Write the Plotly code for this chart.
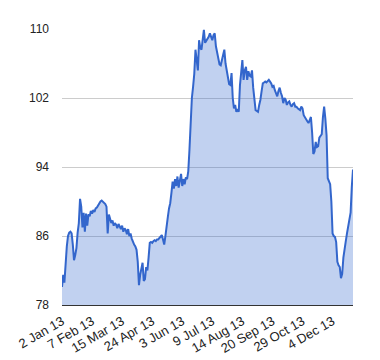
import plotly.graph_objects as go

values = [
    80.1, 81.5, 80.6, 83.0, 84.8, 86.0, 86.4, 86.5, 86.3, 85.0,
    83.2, 83.8, 84.6, 86.4, 87.5, 90.3, 89.4, 87.0, 88.7, 86.5,
    88.6, 87.2, 88.5, 88.3, 88.9, 88.6, 89.0, 88.8, 89.2, 89.3,
    89.6, 89.8, 90.0, 90.1, 90.0, 89.9, 89.7, 89.4, 86.3, 88.5,
    88.0, 87.5, 87.8, 87.2, 87.5, 87.3, 86.9, 87.4, 87.1, 86.8,
    87.2, 86.5, 86.9, 86.7, 86.2, 86.8, 86.0, 86.3, 85.7, 85.3,
    85.0, 84.8, 84.4, 83.0, 80.3, 81.5, 82.5, 82.9, 80.8, 81.0,
    82.4, 82.0, 83.5, 85.2, 85.3, 85.2, 85.4, 85.5, 85.4, 85.6,
    85.6, 85.8, 85.9, 86.1, 85.6, 85.0, 86.0, 87.5, 88.2, 89.2,
    89.8, 91.0, 92.3, 91.5, 92.6, 91.8, 92.9, 91.6, 92.3, 93.2,
    91.8, 92.6, 92.0, 92.8, 92.6, 93.5, 96.0, 99.5, 102.0, 103.3,
    104.8, 107.6, 106.0, 105.2, 108.7, 107.8, 107.6, 109.0, 109.9, 108.4,
    108.6, 108.9, 109.1, 109.5, 109.0, 108.7, 109.3, 109.5, 108.0, 107.2,
    106.2, 105.9, 105.8, 106.4, 107.0, 107.6, 106.0, 105.2, 104.6, 103.6,
    103.5, 104.9, 102.0, 100.8, 101.2, 100.4, 100.7, 100.4, 103.5, 105.2,
    106.4, 104.1, 105.2, 105.6, 104.1, 105.1, 104.6, 104.5, 105.2, 103.2,
    101.5, 100.6, 100.5, 100.4, 101.2, 101.8, 102.8, 103.7, 103.8, 103.9,
    103.8, 104.0, 104.1, 103.9, 103.7, 103.3, 103.4, 102.9, 102.6, 102.2,
    102.8, 103.2, 102.6, 102.2, 101.4, 102.0, 101.8, 101.2, 101.5, 101.6,
    101.2, 101.0, 101.3, 101.4, 101.0, 101.0, 100.8, 100.7, 100.6, 101.0,
    100.8, 100.0, 99.7, 99.4, 99.3, 99.1, 99.4, 99.8, 98.0, 95.5,
    95.8, 96.9, 96.3, 96.4, 97.4, 97.6, 97.8, 99.8, 101.0, 99.6,
    97.7, 92.7, 92.4, 92.0, 90.0, 86.3, 86.0, 85.9, 85.3, 83.0,
    82.6, 82.4, 81.1, 81.6, 83.5, 84.8, 85.4, 86.3, 87.3, 88.0,
    88.7, 91.7, 93.7,
]

tick_labels = ["2 Jan 13", "7 Feb 13", "15 Mar 13", "24 Apr 13", "3 Jun 13",
               "9 Jul 13", "14 Aug 13", "20 Sep 13", "29 Oct 13", "4 Dec 13"]
tick_step = 25
y_ticks = [78, 86, 94, 102, 110]

x = list(range(len(values)))
tickvals = [i * tick_step for i in range(len(tick_labels))]

fig = go.Figure()
fig.add_trace(go.Scatter(
    x=x, y=values, mode="lines",
    line=dict(color="#3366cc", width=2),
    fill="tozeroy", fillcolor="rgba(51,102,204,0.3)",
    hoverinfo="skip",
))

fig.update_layout(
    width=372, height=352,
    margin=dict(l=54, r=27, t=21, b=55),
    paper_bgcolor="white", plot_bgcolor="white",
    showlegend=False,
    font=dict(family="Liberation Sans, Arial, sans-serif", size=12, color="#222222"),
    xaxis=dict(
        range=[0, len(values) - 1], automargin=False,
        tickmode="array", tickvals=tickvals, ticktext=tick_labels,
        tickangle=-30, showgrid=False, zeroline=False,
        showline=True, linecolor="#333333", linewidth=1,
        ticks="", tickfont=dict(size=13, color="#222222"),
        ticklabelstandoff=3,
    ),
    yaxis=dict(
        range=[78, 110], tickmode="array", tickvals=y_ticks, automargin=False,
        showgrid=True, gridcolor="#cccccc", gridwidth=1,
        zeroline=False, showline=False, ticks="",
        tickfont=dict(size=12, color="#222222"),
        ticklabelstandoff=12,
    ),
)

fig.write_html("out.html")
